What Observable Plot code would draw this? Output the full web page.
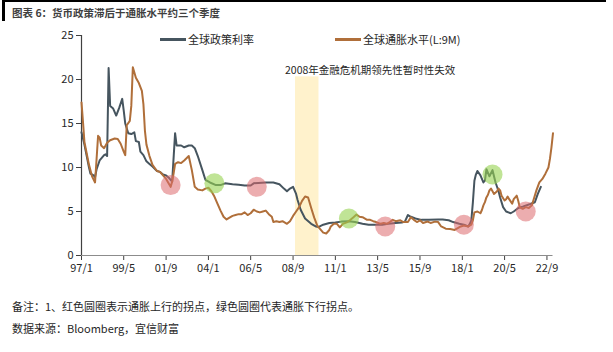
<!DOCTYPE html>
<html>
<head>
<meta charset="utf-8">
<script src="https://cdn.jsdelivr.net/npm/d3@7"></script>
<script src="https://cdn.jsdelivr.net/npm/@observablehq/plot@0.6"></script>
<style>
  body { margin: 0; background: #fff; font-family: "Noto Sans CJK SC", "Noto Sans", sans-serif; }
  #wrap { position: relative; width: 613px; height: 352px; overflow: hidden; background: #fff; }
  #topline { position: absolute; left: 2px; top: 0; width: 604px; height: 2px; background: #000; }
  #leftbar { position: absolute; left: 2px; top: 0; width: 3px; height: 21px; background: #000; }
  #title { position: absolute; left: 12px; top: 5px; line-height: 16px; font-size: 10.5px; font-weight: bold; color: #3f3f3f; white-space: nowrap; }
  #chart { position: absolute; left: 0; top: 22px; }
  .lg-line { position: absolute; height: 2.5px; }
  .lg-text { position: absolute; font-size: 11px; line-height: 16px; color: #262626; white-space: nowrap; }
  .note { position: absolute; left: 12px; font-size: 11px; line-height: 16px; color: #262626; white-space: nowrap; }
</style>
</head>
<body>
<div id="wrap">
  <div id="topline"></div>
  <div id="leftbar"></div>
  <div id="title"></div>
  <div id="chart"></div>
  <div id="legend"></div>
  <div class="note" id="note1" style="top:298px"></div>
  <div class="note" id="note2" style="top:320px"></div>
</div>
<script>
// ---------- data ----------
const titleText = "图表 6：货币政策滞后于通胀水平约三个季度";
const seriesNames = ["全球政策利率", "全球通胀水平(L:9M)"];
const seriesColors = ["#46555f", "#b06f3a"];
const noteText = "备注：1、红色圆圈表示通胀上行的拐点，绿色圆圈代表通胀下行拐点。";
const sourceText = "数据来源：Bloomberg，宜信财富";
const annotationText = "2008年金融危机期领先性暂时性失效";

const policyRate = [
  ["1997-01",14.0],["1997-03",12.6],["1997-06",10.0],["1997-07",9.3],["1997-09",9.1],["1997-10",8.9],
  ["1997-11",9.8],["1998-01",10.8],["1998-04",11.4],["1998-05",11.5],["1998-06",11.3],["1998-07",21.3],
  ["1998-08",17.0],["1998-10",16.7],["1998-12",15.9],["1999-02",16.8],["1999-04",17.8],["1999-05",16.5],
  ["1999-06",15.0],["1999-08",13.9],["1999-10",13.8],["1999-12",14.0],["2000-01",13.0],["2000-03",12.9],
  ["2000-04",11.8],["2000-06",11.4],["2000-08",10.7],["2000-10",10.4],["2000-12",10.1],["2001-03",9.6],
  ["2001-05",9.5],["2001-07",9.2],["2001-09",9.1],["2001-11",8.8],["2002-01",8.4],["2002-03",13.9],
  ["2002-04",12.5],["2002-07",12.5],["2002-09",12.3],["2002-12",12.5],["2003-02",12.5],["2003-04",12.2],
  ["2003-06",11.3],["2003-09",9.7],["2003-11",8.6],["2004-02",8.3],["2004-06",8.0],["2004-09",8.0],
  ["2004-12",8.2],["2005-05",8.1],["2005-09",8.05],["2006-01",7.95],["2006-05",7.95],["2006-07",8.2],
  ["2006-10",8.25],["2007-03",8.3],["2007-08",8.3],["2007-12",8.1],["2008-03",7.6],["2008-05",7.3],
  ["2008-07",7.6],["2008-09",7.8],["2008-11",7.0],["2008-12",6.3],["2009-02",5.2],["2009-05",4.2],
  ["2009-09",3.6],["2009-12",3.3],["2010-02",3.25],["2010-05",3.5],["2010-09",3.7],["2011-01",3.75],
  ["2011-05",3.85],["2011-10",3.9],["2012-02",3.8],["2012-07",3.6],["2012-11",3.5],["2013-04",3.5],
  ["2013-08",3.5],["2013-12",3.6],["2014-05",3.7],["2014-09",3.75],["2014-11",3.85],["2015-01",4.6],
  ["2015-03",4.4],["2015-06",4.2],["2015-10",4.05],["2016-03",4.05],["2016-09",4.1],["2016-12",4.1],
  ["2017-04",4.0],["2017-07",3.8],["2017-11",3.6],["2018-02",3.5],["2018-05",3.3],["2018-06",3.6],
  ["2018-07",4.0],["2018-08",6.0],["2018-09",8.5],["2018-10",9.2],["2018-11",9.6],["2019-01",9.1],
  ["2019-03",8.3],["2019-04",8.5],["2019-05",9.8],["2019-07",9.0],["2019-09",9.7],["2019-11",8.3],
  ["2020-01",7.3],["2020-02",6.6],["2020-04",5.5],["2020-06",5.0],["2020-09",4.8],["2020-11",5.0],
  ["2021-02",5.4],["2021-05",5.55],["2021-10",5.85],["2022-01",6.05],["2022-03",7.0],["2022-05",7.8]
];

const inflationL9M = [
  ["1997-01",17.4],["1997-02",15.1],["1997-03",12.9],["1997-06",10.3],["1997-08",9.0],["1997-10",8.3],
  ["1997-11",11.0],["1997-12",13.6],["1998-01",13.4],["1998-02",12.5],["1998-04",12.2],["1998-06",12.8],
  ["1998-08",13.1],["1998-11",13.3],["1999-01",13.25],["1999-03",12.7],["1999-05",11.8],["1999-06",11.4],
  ["1999-07",14.8],["1999-09",15.3],["1999-10",17.0],["1999-11",21.4],["2000-01",20.2],["2000-03",19.6],
  ["2000-05",18.7],["2000-06",17.2],["2000-07",14.2],["2000-08",12.6],["2000-10",11.3],["2000-12",10.3],
  ["2001-03",9.6],["2001-05",9.5],["2001-07",9.1],["2001-09",8.7],["2001-12",7.8],["2002-01",8.4],
  ["2002-02",9.4],["2002-03",10.4],["2002-05",10.6],["2002-07",10.5],["2002-09",10.8],["2002-12",11.3],
  ["2003-02",9.7],["2003-04",7.8],["2003-06",7.5],["2003-09",7.4],["2003-11",7.6],["2004-01",7.7],
  ["2004-03",7.3],["2004-05",6.7],["2004-07",5.9],["2004-09",5.1],["2004-11",4.4],["2005-01",4.1],
  ["2005-03",4.3],["2005-05",4.5],["2005-07",4.6],["2005-09",4.7],["2005-11",4.7],["2006-01",4.9],
  ["2006-03",4.6],["2006-05",4.8],["2006-07",5.2],["2006-09",5.0],["2006-11",4.9],["2007-01",5.0],
  ["2007-03",5.1],["2007-05",4.7],["2007-07",4.4],["2007-08",3.8],["2007-10",3.9],["2007-12",3.8],
  ["2008-02",3.9],["2008-05",3.6],["2008-07",3.9],["2008-09",4.5],["2008-11",5.0],["2009-01",5.5],
  ["2009-03",6.2],["2009-05",6.7],["2009-07",6.6],["2009-09",5.4],["2009-11",4.3],["2010-01",3.4],
  ["2010-03",3.0],["2010-05",2.6],["2010-07",2.5],["2010-09",2.9],["2010-10",3.3],["2010-12",3.6],
  ["2011-02",3.6],["2011-04",3.2],["2011-06",3.6],["2011-09",3.8],["2011-11",4.05],["2012-01",4.35],
  ["2012-03",4.65],["2012-05",4.4],["2012-07",4.35],["2012-10",4.05],["2012-12",4.05],["2013-02",3.9],
  ["2013-04",3.8],["2013-07",3.6],["2013-09",3.7],["2013-11",3.6],["2014-01",3.8],["2014-03",4.05],
  ["2014-05",3.9],["2014-08",4.0],["2014-10",3.8],["2015-01",3.8],["2015-03",4.35],["2015-05",4.05],
  ["2015-07",3.8],["2015-09",4.0],["2015-11",3.7],["2016-02",3.86],["2016-04",3.7],["2016-07",3.85],
  ["2016-09",3.8],["2016-11",3.3],["2017-02",3.05],["2017-05",3.0],["2017-08",2.9],["2017-10",3.1],
  ["2017-12",3.3],["2018-02",3.4],["2018-05",3.3],["2018-07",3.5],["2018-08",4.0],["2018-09",4.9],
  ["2018-11",5.0],["2019-01",4.8],["2019-02",5.2],["2019-03",5.7],["2019-04",6.06],["2019-05",6.6],
  ["2019-06",6.9],["2019-07",7.4],["2019-08",7.6],["2019-09",7.3],["2019-10",7.0],["2019-12",7.3],
  ["2020-01",7.6],["2020-02",7.4],["2020-03",6.8],["2020-05",6.25],["2020-06",6.4],["2020-07",6.7],
  ["2020-08",6.4],["2020-10",5.9],["2020-11",6.4],["2021-01",6.8],["2021-02",6.2],["2021-03",5.5],
  ["2021-05",5.3],["2021-07",5.5],["2021-09",5.4],["2021-11",5.7],["2021-12",6.25],["2022-02",7.4],
  ["2022-04",8.3],["2022-06",8.7],["2022-08",9.3],["2022-10",10.0],["2022-11",11.0],["2022-12",12.3],
  ["2023-01",13.9]
];

// turning points: red = inflation upturn, green = inflation downturn
const redPoints = [["2001-12",8.0],["2006-09",7.8],["2013-10",3.3],["2018-02",3.5],["2021-07",5.0]];
const greenPoints = [["2004-05",8.2],["2011-10",4.2],["2019-09",9.2]];

const crisisBand = [["2008-10-20","2010-02-05",0,20.3]];
const annotation = [["2012-12",21.0]];

const xDomain = ["1997-01","2023-01"];
const xTickLabels = ["97/1","99/5","01/9","04/1","06/5","08/9","11/1","13/5","15/9","18/1","20/5","22/9"];
const yTicks = [0,5,10,15,20,25];

// ---------- build ----------
const pm = d3.utcParse("%Y-%m");
const pd = d3.utcParse("%Y-%m-%d");
const toRows = arr => arr.map(([d, v]) => ({date: pm(d), value: v}));
const policy = toRows(policyRate);
const inflation = toRows(inflationL9M);
const red = toRows(redPoints);
const green = toRows(greenPoints);
const band = crisisBand.map(([a, b, y1, y2]) => ({x1: pd(a), x2: pd(b), y1, y2}));
const ann = annotation.map(([d, v]) => ({date: pm(d), value: v, text: annotationText}));

const tickDates = xTickLabels.map(l => {
  const [yy, mm] = l.split("/").map(Number);
  return new Date(Date.UTC(yy > 50 ? 1900 + yy : 2000 + yy, mm - 1, 1));
});
const tickLabelMap = new Map(tickDates.map((d, i) => [+d, xTickLabels[i]]));

const font = "'Noto Sans CJK SC', 'Noto Sans', sans-serif";

const chart = Plot.plot({
  width: 613,
  height: 260,
  marginLeft: 81,
  marginRight: 60.5,
  marginTop: 13,
  marginBottom: 27,
  style: {fontFamily: font, fontSize: "11px", color: "#262626", background: "transparent", overflow: "visible"},
  x: {type: "utc", domain: xDomain.map(pm)},
  y: {domain: [0, 25]},
  marks: [
    Plot.rect(band, {x1: "x1", x2: "x2", y1: "y1", y2: "y2", fill: "#fff2cc"}),
    Plot.axisY({ticks: yTicks, tickSize: 5, tickPadding: 3, label: null, stroke: "#404040", fill: "#262626"}),
    Plot.axisX({ticks: tickDates, tickFormat: d => tickLabelMap.get(+d), tickSize: 5, tickPadding: 4, label: null, stroke: "#404040", fill: "#262626"}),
    Plot.ruleX([pm(xDomain[0])], {stroke: "#404040", strokeWidth: 1.2}),
    Plot.ruleY([0], {stroke: "#8c8c8c", strokeWidth: 1.2}),
    Plot.line(policy, {x: "date", y: "value", stroke: seriesColors[0], strokeWidth: 2}),
    Plot.line(inflation, {x: "date", y: "value", stroke: seriesColors[1], strokeWidth: 2}),
    Plot.dot(red, {x: "date", y: "value", r: 10, fill: "rgb(220,105,110)", fillOpacity: 0.55, stroke: "none"}),
    Plot.dot(green, {x: "date", y: "value", r: 10, fill: "rgb(150,210,80)", fillOpacity: 0.6, stroke: "none"}),
    Plot.text(ann, {x: "date", y: "value", text: "text", fontSize: 10.5, fill: "#262626"})
  ]
});
document.getElementById("chart").appendChild(chart);

// titles, legend, notes
document.getElementById("title").textContent = titleText;
document.getElementById("note1").textContent = noteText;
document.getElementById("note2").textContent = sourceText;

const legend = document.getElementById("legend");
const legendPos = [[160, 188], [335, 363]];
seriesNames.forEach((name, i) => {
  const ln = document.createElement("div");
  ln.className = "lg-line";
  ln.style.left = legendPos[i][0] + "px";
  ln.style.top = "38px";
  ln.style.width = "26px";
  ln.style.background = seriesColors[i];
  legend.appendChild(ln);
  const tx = document.createElement("div");
  tx.className = "lg-text";
  tx.style.left = legendPos[i][1] + "px";
  tx.style.top = "31px";
  tx.textContent = name;
  legend.appendChild(tx);
});
</script>
</body>
</html>
